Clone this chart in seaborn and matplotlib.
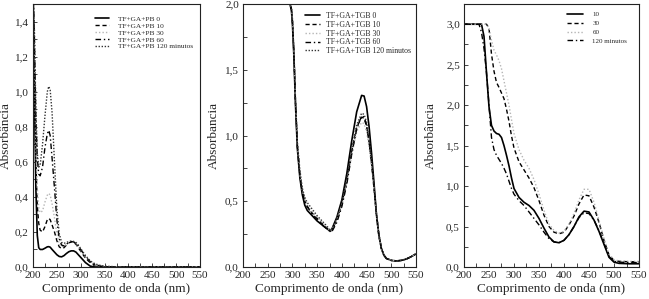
import matplotlib
matplotlib.use("Agg")
import matplotlib.pyplot as plt
import seaborn as sns
from matplotlib.ticker import MultipleLocator, FuncFormatter

# ---- painel 1: TF+GA+PB ----
wl_pb = [200, 203, 206, 209, 212, 215, 220, 225, 230, 233, 236, 240, 245, 250, 255,
         260, 265, 270, 275, 280, 285, 290, 295, 300, 310, 320, 330, 340, 350, 370,
         400, 450, 500, 550]
pb_0 = [1.6, 1.0, 0.45, 0.18, 0.11, 0.1, 0.1, 0.107, 0.115, 0.116, 0.113, 0.1, 0.085, 0.07, 0.06,
        0.058, 0.065, 0.077, 0.087, 0.092, 0.092, 0.085, 0.07, 0.055, 0.025, 0.005, 0.0, 0.0, 0.0, 0.0,
        0.0, 0.0, 0.0, 0.0]
pb_10 = [1.6, 1.1, 0.6, 0.35, 0.25, 0.21, 0.2, 0.23, 0.27, 0.277, 0.27, 0.24, 0.2, 0.15, 0.115,
         0.105, 0.11, 0.125, 0.138, 0.142, 0.14, 0.13, 0.11, 0.09, 0.05, 0.025, 0.01, 0.003, 0.0, 0.0,
         0.0, 0.0, 0.0, 0.0]
pb_30 = [1.6, 1.2, 0.7, 0.45, 0.34, 0.31, 0.32, 0.37, 0.41, 0.42, 0.41, 0.36, 0.28, 0.19, 0.13,
         0.115, 0.12, 0.13, 0.14, 0.145, 0.142, 0.135, 0.115, 0.095, 0.055, 0.03, 0.012, 0.005, 0.0, 0.0,
         0.0, 0.0, 0.0, 0.0]
pb_60 = [1.6, 1.3, 0.85, 0.62, 0.53, 0.52, 0.57, 0.68, 0.76, 0.78, 0.75, 0.62, 0.45, 0.27, 0.16,
         0.125, 0.12, 0.13, 0.14, 0.145, 0.143, 0.135, 0.12, 0.1, 0.06, 0.03, 0.015, 0.006, 0.002, 0.0,
         0.0, 0.0, 0.0, 0.0]
pb_120 = [1.6, 1.35, 0.9, 0.65, 0.57, 0.58, 0.7, 0.86, 1.0, 1.03, 1.01, 0.88, 0.6, 0.33, 0.19,
          0.14, 0.135, 0.14, 0.145, 0.148, 0.146, 0.14, 0.125, 0.105, 0.065, 0.035, 0.018, 0.01, 0.005, 0.002,
          0.0, 0.0, 0.0, 0.0]
pb_labels = ["TF+GA+PB 0", "TF+GA+PB 10", "TF+GA+PB 30", "TF+GA+PB 60", "TF+GA+PB 120 minutos"]

# ---- painel 2: TF+GA+TGB ----
wl_tgb = [200, 250, 295, 298, 300, 303, 306, 310, 315, 320, 325, 330, 340, 350, 360,
          370, 376, 380, 390, 400, 410, 420, 430, 440, 445, 450, 455, 460, 465, 470,
          475, 480, 485, 490, 500, 510, 520, 530, 540, 550]
tgb_0 = [2.0, 2.0, 2.0, 1.95, 1.85, 1.6, 1.25, 0.9, 0.68, 0.55, 0.47, 0.43, 0.39, 0.35, 0.32,
         0.29, 0.275, 0.29, 0.38, 0.51, 0.71, 0.96, 1.18, 1.305, 1.3, 1.22, 1.07, 0.87, 0.64, 0.4,
         0.24, 0.14, 0.09, 0.065, 0.05, 0.046, 0.05, 0.06, 0.078, 0.1]
tgb_10 = [2.0, 2.0, 2.0, 1.96, 1.87, 1.62, 1.27, 0.92, 0.7, 0.57, 0.5, 0.46, 0.41, 0.37, 0.33,
          0.295, 0.27, 0.28, 0.36, 0.48, 0.66, 0.88, 1.06, 1.14, 1.13, 1.07, 0.95, 0.79, 0.6, 0.39,
          0.23, 0.14, 0.09, 0.065, 0.05, 0.046, 0.05, 0.06, 0.078, 0.1]
tgb_30 = [2.0, 2.0, 2.0, 1.96, 1.88, 1.63, 1.28, 0.93, 0.71, 0.58, 0.51, 0.47, 0.42, 0.38, 0.34,
          0.3, 0.275, 0.285, 0.36, 0.47, 0.64, 0.85, 1.03, 1.1, 1.09, 1.03, 0.92, 0.77, 0.59, 0.39,
          0.23, 0.14, 0.09, 0.065, 0.05, 0.046, 0.05, 0.06, 0.078, 0.1]
tgb_60 = [2.0, 2.0, 2.0, 1.96, 1.87, 1.62, 1.27, 0.92, 0.7, 0.57, 0.5, 0.46, 0.4, 0.36, 0.32,
          0.29, 0.27, 0.27, 0.34, 0.46, 0.63, 0.86, 1.05, 1.15, 1.14, 1.08, 0.96, 0.8, 0.61, 0.4,
          0.24, 0.14, 0.09, 0.065, 0.05, 0.046, 0.05, 0.06, 0.078, 0.1]
tgb_120 = [2.0, 2.0, 2.0, 1.97, 1.89, 1.65, 1.3, 0.95, 0.74, 0.6, 0.53, 0.49, 0.44, 0.39, 0.35,
           0.31, 0.28, 0.29, 0.37, 0.49, 0.67, 0.89, 1.08, 1.17, 1.16, 1.1, 0.98, 0.81, 0.62, 0.41,
           0.25, 0.15, 0.095, 0.068, 0.052, 0.047, 0.05, 0.06, 0.078, 0.1]
tgb_labels = ["TF+GA+TGB 0", "TF+GA+TGB 10", "TF+GA+TGB 30", "TF+GA+TGB 60", "TF+GA+TGB 120 minutos"]

# ---- painel 3 ----
wl_3 = [200, 230, 235, 240, 245, 250, 255, 260, 265, 270, 275, 280, 285, 290, 295,
        300, 310, 320, 330, 340, 350, 360, 370, 380, 390, 400, 410, 420, 430, 440,
        450, 460, 470, 480, 490, 500, 510, 530, 550]
t_10 = [3.0, 3.0, 3.0, 2.85, 2.4, 1.98, 1.75, 1.68, 1.65, 1.64, 1.6, 1.5, 1.38, 1.25, 1.1,
        0.97, 0.86, 0.8, 0.76, 0.7, 0.6, 0.48, 0.37, 0.31, 0.3, 0.33, 0.4, 0.5, 0.62, 0.69,
        0.68, 0.58, 0.44, 0.28, 0.12, 0.06, 0.045, 0.04, 0.04]
t_30 = [3.0, 3.0, 3.0, 3.0, 3.0, 2.95, 2.63, 2.42, 2.28, 2.22, 2.15, 2.08, 1.95, 1.8, 1.62,
        1.47, 1.3, 1.2, 1.1, 0.98, 0.82, 0.64, 0.5, 0.43, 0.41, 0.43, 0.52, 0.63, 0.78, 0.89,
        0.88, 0.74, 0.55, 0.33, 0.15, 0.08, 0.07, 0.065, 0.065]
t_60 = [3.0, 3.0, 3.0, 3.0, 3.0, 2.95, 2.8, 2.68, 2.62, 2.55, 2.45, 2.3, 2.15, 2.0, 1.82,
        1.65, 1.45, 1.32, 1.22, 1.08, 0.9, 0.7, 0.53, 0.45, 0.42, 0.44, 0.53, 0.66, 0.83, 0.96,
        0.96, 0.8, 0.58, 0.35, 0.16, 0.09, 0.075, 0.07, 0.07]
t_120 = [3.0, 3.0, 2.9, 2.7, 2.4, 2.0, 1.6, 1.45, 1.38, 1.33, 1.28, 1.22, 1.15, 1.06, 0.97,
         0.9, 0.82, 0.76, 0.68, 0.6, 0.52, 0.43, 0.35, 0.31, 0.3, 0.33, 0.4, 0.5, 0.61, 0.67,
         0.66, 0.58, 0.45, 0.29, 0.13, 0.07, 0.06, 0.055, 0.055]
t_labels = ["10", "30", "60", "120 minutos"]

sns.set_style("ticks")
plt.rcParams['font.family'] = ['Liberation Serif', 'DejaVu Serif']
plt.rcParams['xtick.direction'] = 'in'
plt.rcParams['ytick.direction'] = 'in'

# estilos: solido, tracejado, pontilhado claro, traco-ponto, pontilhado
s_solid = dict(color='black', linestyle='-', lw=1.2)
s_dash = dict(color='black', linestyle=(0, (3, 2)), lw=1.0)
s_light = dict(color='#b5b5b5', linestyle=(0, (1, 1.5)), lw=1.0)
s_dashdot = dict(color='black', linestyle=(0, (4, 2, 1, 2)), lw=1.0)
s_dot = dict(color='#333333', linestyle=(0, (1, 1.2)), lw=1.0)

fig = plt.figure(figsize=(6.49, 2.99), dpi=100)
ax1 = fig.add_axes([33 / 649, 32 / 299, 167 / 649, 263 / 299])
ax2 = fig.add_axes([243 / 649, 32 / 299, 173 / 649, 263 / 299])
ax3 = fig.add_axes([464 / 649, 32 / 299, 175 / 649, 263 / 299])

for ys, lab, st in zip([pb_0, pb_10, pb_30, pb_60, pb_120], pb_labels,
                       [s_solid, s_dash, s_light, s_dashdot, s_dot]):
    sns.lineplot(x=wl_pb, y=ys, ax=ax1, label=lab, **st)

for ys, lab, st in zip([tgb_0, tgb_10, tgb_30, tgb_60, tgb_120], tgb_labels,
                       [s_solid, s_dash, s_light, s_dashdot, s_dot]):
    sns.lineplot(x=wl_tgb, y=ys, ax=ax2, label=lab, **st)

for ys, lab, st in zip([t_10, t_30, t_60, t_120], t_labels,
                       [s_solid, s_dash, s_light, s_dashdot]):
    sns.lineplot(x=wl_3, y=ys, ax=ax3, label=lab, **st)

comma = FuncFormatter(lambda v, p: f"{v:.1f}".replace('.', ','))

# (eixo, ymax, major, minor, ylabel, pos. label, fonte legenda, espaco, handle, pad, anchor)
setup = [(ax1, 1.5, 0.2, 0.1, "Absorbância", -0.127, 5.3, 0.1, 1.9, 1.2, (0.99, 0.975)),
         (ax2, 2.0, 0.5, 0.25, "Absorbancia", -0.133, 5.6, 0.1, 2.0, 0.7, (1.0, 0.99)),
         (ax3, 3.25, 0.5, 0.25, "Absorbância", -0.154, 5.0, 0.43, 2.3, 1.3, (0.96, 0.99))]
for ax, ytop, ymaj, ymin, ylab, lx, lfs, lsp, hl, htp, anchor in setup:
    ax.set_xlim(200, 550)
    ax.set_ylim(0, ytop)
    ax.xaxis.set_major_locator(MultipleLocator(50))
    ax.xaxis.set_minor_locator(MultipleLocator(25))
    ax.yaxis.set_major_locator(MultipleLocator(ymaj))
    ax.yaxis.set_minor_locator(MultipleLocator(ymin))
    ax.yaxis.set_major_formatter(comma)
    ax.tick_params(which='both', length=3, width=0.6, labelsize=8, pad=3)
    for sp in ax.spines.values():
        sp.set_linewidth(0.8)
        sp.set_color('#222222')
    ax.set_xlabel("Comprimento de onda (nm)", fontsize=9.5, labelpad=2)
    ax.set_ylabel(ylab, fontsize=9.5)
    ax.yaxis.set_label_coords(lx, 0.5)
    ax.legend(loc='upper right', bbox_to_anchor=anchor, frameon=False, fontsize=lfs,
              handlelength=hl, labelspacing=lsp, handletextpad=htp, borderaxespad=0.3)

fig.savefig("out.png", dpi=100)
